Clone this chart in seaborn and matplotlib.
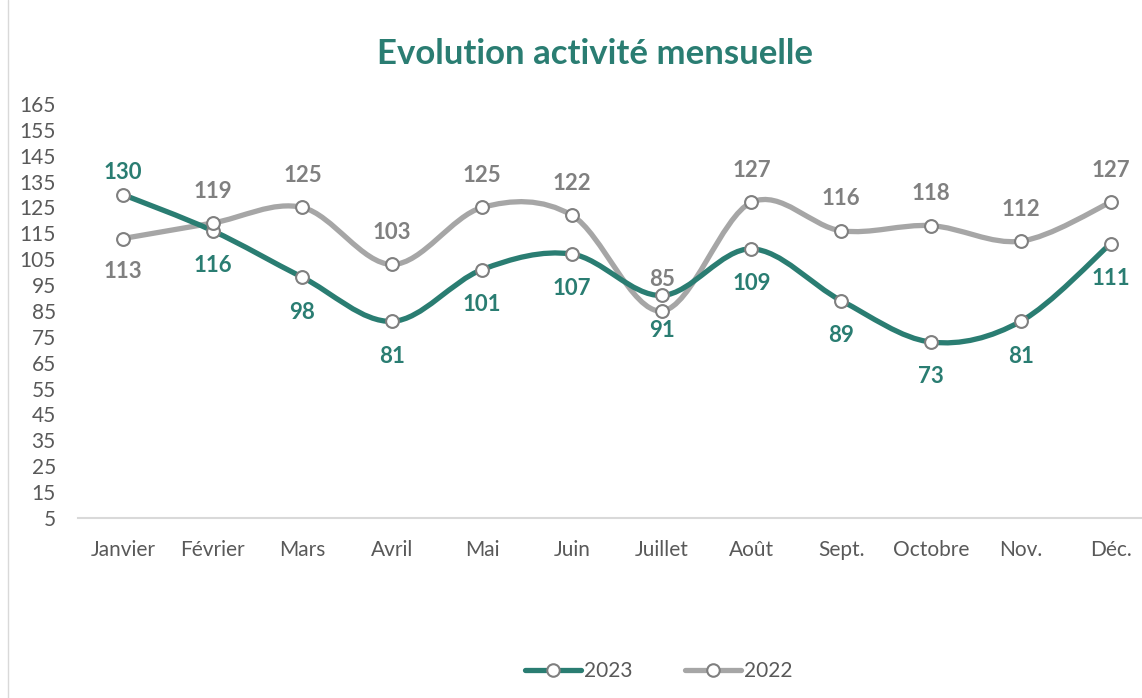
import seaborn as sns
import numpy as np
import matplotlib.pyplot as plt
import pandas as pd
from matplotlib.path import Path
from matplotlib.patches import PathPatch
from matplotlib.lines import Line2D

# monthly activity values
mois = ['Janvier', 'Février', 'Mars', 'Avril', 'Mai', 'Juin', 'Juillet',
        'Août', 'Sept.', 'Octobre', 'Nov.', 'Déc.']
v2023 = [130, 116, 98, 81, 101, 107, 91, 109, 89, 73, 81, 111]
v2022 = [113, 119, 125, 103, 125, 122, 85, 127, 116, 118, 112, 127]
yticks = list(range(5, 166, 10))

teal = '#2a7d72'
grey = '#a6a6a6'
label_grey = '#808080'
tick_col = '#595959'

sns.set_theme(style='white')
plt.rcParams['font.family'] = ['Lato', 'DejaVu Sans']

df = pd.concat([
    pd.DataFrame({'x': range(12), 'mois': mois, 'valeur': v2023, 'annee': '2023'}),
    pd.DataFrame({'x': range(12), 'mois': mois, 'valeur': v2022, 'annee': '2022'}),
], ignore_index=True)

fig = plt.figure(figsize=(11.42, 6.98), dpi=100)
ax = fig.add_axes([78 / 1142, 180 / 698, 1064 / 1142, 414 / 698])


def smooth_path(xs, ys):
    # Excel-style smoothed line: cubic bezier segments (catmull-rom tangents)
    pts = np.column_stack([xs, ys]).astype(float)
    n = len(pts)
    verts = [pts[0]]
    codes = [Path.MOVETO]
    for i in range(n - 1):
        p0 = pts[max(i - 1, 0)]
        p1 = pts[i]
        p2 = pts[i + 1]
        p3 = pts[min(i + 2, n - 1)]
        c1 = p1 + (p2 - p0) / 6
        c2 = p2 - (p3 - p1) / 6
        verts += [c1, c2, p2]
        codes += [Path.CURVE4] * 3
    return Path(verts, codes)


for annee, col in [('2022', grey), ('2023', teal)]:
    sub = df[df.annee == annee]
    ax.add_patch(PathPatch(smooth_path(sub.x, sub.valeur), facecolor='none',
                           edgecolor=col, lw=3.8, capstyle='round', zorder=2))

sns.scatterplot(data=df, x='x', y='valeur', ax=ax, s=85, color='white',
                edgecolor='#7f7f7f', linewidth=1.5, zorder=3, legend=False)

# data labels: 2023 below (except January), 2022 above (except January)
for i, v in enumerate(v2023):
    off = 16 if i == 0 else -25
    ax.annotate(str(v), (i, v), xytext=(0, off), textcoords='offset points',
                ha='center', va='center', color=teal, fontsize=16, fontweight='bold')
for i, v in enumerate(v2022):
    off = -24 if i == 0 else 23
    ax.annotate(str(v), (i, v), xytext=(0, off), textcoords='offset points',
                ha='center', va='center', color=label_grey, fontsize=16, fontweight='bold')

ax.set_xlim(-0.5, 11.35)
ax.set_ylim(5, 165)
ax.set_xticks(range(12))
ax.set_xticklabels(mois)
ax.set_yticks(yticks)
ax.tick_params(axis='both', length=0, labelsize=15, labelcolor=tick_col)
ax.tick_params(axis='y', pad=16)
ax.tick_params(axis='x', pad=16)
ax.set_xlabel('')
ax.set_ylabel('')
for s in ['top', 'right', 'left']:
    ax.spines[s].set_visible(False)
ax.spines['bottom'].set_color('#d9d9d9')
ax.spines['bottom'].set_linewidth(1.5)

fig.text(595 / 1142, 1 - 54 / 698, 'Evolution activité mensuelle', ha='center', va='center',
         fontsize=25, fontweight='bold', color=teal)

# chart frame edge on the left
fig.add_artist(Line2D([8 / 1142, 8 / 1142], [0, 1], color='#d9d9d9', lw=1))

handles = [Line2D([], [], color=teal, lw=3.8, marker='o', markersize=9,
                  markerfacecolor='white', markeredgecolor='#7f7f7f', markeredgewidth=1.5),
           Line2D([], [], color=grey, lw=3.8, marker='o', markersize=9,
                  markerfacecolor='white', markeredgecolor='#7f7f7f', markeredgewidth=1.5)]
fig.legend(handles, ['2023', '2022'], loc='center', bbox_to_anchor=(659 / 1142, 1 - 671 / 698),
           ncol=2, frameon=False, fontsize=15, labelcolor=tick_col, handlelength=2.7,
           handletextpad=0.15, columnspacing=2.5)

fig.savefig('out.png', dpi=100)
